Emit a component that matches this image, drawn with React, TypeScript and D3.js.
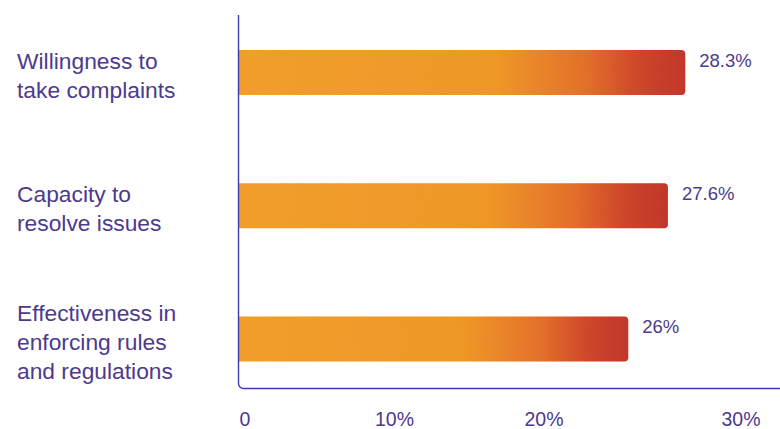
import React from "react";
import * as d3 from "d3";

const categories: string[][] = [
  ["Willingness to", "take complaints"],
  ["Capacity to", "resolve issues"],
  ["Effectiveness in", "enforcing rules", "and regulations"],
];
const values: number[] = [28.3, 27.6, 26];
const valueLabels: string[] = ["28.3%", "27.6%", "26%"];
const tickValues: number[] = [0, 10, 20, 30];
const tickLabels: string[] = ["0", "10%", "20%", "30%"];

const W = 780;
const H = 429;
const TEXT = "#4d3a8c";
const AXIS = "#3b3bb0";
const FONT = "'Liberation Sans', Arial, Helvetica, sans-serif";

export default function App() {
  // bar length scale (bars start at the axis line)
  const x = d3.scaleLinear().domain([10.25, 30]).range([238, 727.4]);
  // tick label positions along the bottom axis
  const xt = d3.scaleLinear().domain([0, 20, 30]).range([245, 544, 741]);
  const y = d3.scalePoint<number>().domain(values.map((_, i) => i)).range([72.5, 339]);
  const barH = 45;
  const r = 4;
  const axisX = 238.5;
  const axisTop = 15;
  const axisBottom = 388.5;

  const barPath = (i: number) => {
    const x0 = x.range()[0] + 1;
    const x1 = x(values[i]);
    const yc = y(i) as number;
    const y0 = yc - barH / 2;
    const y1 = yc + barH / 2;
    const p = d3.path();
    p.moveTo(x0, y0);
    p.lineTo(x1 - r, y0);
    p.arcTo(x1, y0, x1, y0 + r, r);
    p.lineTo(x1, y1 - r);
    p.arcTo(x1, y1, x1 - r, y1, r);
    p.lineTo(x0, y1);
    p.closePath();
    return p.toString();
  };

  const axisPath = (() => {
    const p = d3.path();
    const cr = 5;
    p.moveTo(axisX, axisTop);
    p.lineTo(axisX, axisBottom - cr);
    p.arcTo(axisX, axisBottom, axisX + cr, axisBottom, cr);
    p.lineTo(W, axisBottom);
    return p.toString();
  })();

  const lineH = 29;

  return (
    <svg
      width={W}
      height={H}
      viewBox={`0 0 ${W} ${H}`}
      style={{ position: "absolute", left: 0, top: 0, background: "#fff" }}
    >
      <defs>
        <linearGradient id="barGrad" x1="0" y1="0" x2="1" y2="0">
          <stop offset="0" stopColor="#f7a22e" />
          <stop offset="0.58" stopColor="#f49b2c" />
          <stop offset="0.78" stopColor="#e8722e" />
          <stop offset="0.9" stopColor="#d2482e" />
          <stop offset="1" stopColor="#c6392d" />
        </linearGradient>
        <filter id="grain" x="0" y="0" width="100%" height="100%">
          <feTurbulence type="fractalNoise" baseFrequency="0.9" numOctaves="2" seed="3" result="noise" />
          <feColorMatrix
            in="noise"
            type="matrix"
            values="0 0 0 0 0  0 0 0 0 0  0 0 0 0 0  0 0 0 0.1 0"
            result="dark"
          />
          <feComposite in="dark" in2="SourceGraphic" operator="in" result="grainIn" />
          <feMerge>
            <feMergeNode in="SourceGraphic" />
            <feMergeNode in="grainIn" />
          </feMerge>
        </filter>
      </defs>

      {values.map((v, i) => (
        <path key={`bar-${i}`} d={barPath(i)} fill="url(#barGrad)" filter="url(#grain)" />
      ))}

      <path d={axisPath} fill="none" stroke={AXIS} strokeWidth={1.4} />

      {categories.map((lines, i) => {
        const yc = (y(i) as number) + 2.5;
        return (
          <text key={`cat-${i}`} fontFamily={FONT} fontSize={22.8} fill={TEXT}>
            {lines.map((ln, k) => (
              <tspan key={k} x={17} y={yc + (k - (lines.length - 1) / 2) * lineH + 8}>
                {ln}
              </tspan>
            ))}
          </text>
        );
      })}

      {values.map((v, i) => (
        <text
          key={`val-${i}`}
          x={x(v) + 14}
          y={(y(i) as number) - 6}
          fontFamily={FONT}
          fontSize={18.5}
          fill={TEXT}
        >
          {valueLabels[i]}
        </text>
      ))}

      {tickValues.map((t, i) => (
        <text
          key={`tick-${i}`}
          x={xt(t)}
          y={426}
          textAnchor="middle"
          fontFamily={FONT}
          fontSize={19.5}
          fill={TEXT}
        >
          {tickLabels[i]}
        </text>
      ))}
    </svg>
  );
}
